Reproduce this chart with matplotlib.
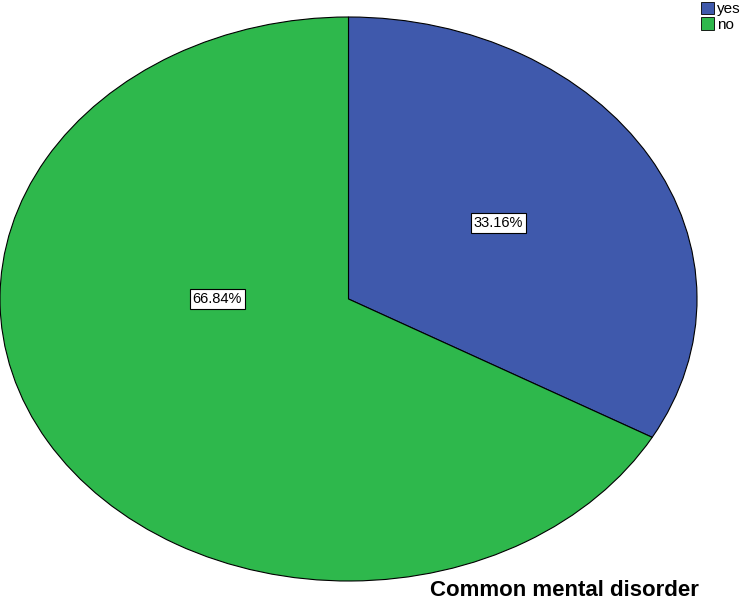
import matplotlib
matplotlib.use("Agg")
import matplotlib.pyplot as plt
from matplotlib.patches import Patch

categories = ["yes", "no"]
values = [33.16, 66.84]
colors = ["#3f59ac", "#2eb84c"]
title = "Common mental disorder"

plt.rcParams['font.family'] = ['Liberation Sans', 'DejaVu Sans']
fig = plt.figure(figsize=(7.56, 6.03), dpi=100)
W, H = 756, 603
ax = fig.add_axes([0 / W, (H - 581) / H, 697 / W, 564 / H])
wedges, _ = ax.pie(values, colors=colors, startangle=90, counterclock=False,
                   wedgeprops=dict(edgecolor="black", linewidth=0.8))
ax.set_aspect('auto')
ax.set_xlim(-1.0, 1.0)
ax.set_ylim(-1.0, 1.0)

label_pos = [(0.43, 0.27), (-0.377, 0.0)]
for (x, y), v in zip(label_pos, values):
    ax.text(x, y, f"{v:.2f}%", ha="center", va="center", fontsize=10.5,
            bbox=dict(boxstyle="square,pad=0.2", fc="white", ec="black", lw=0.8))

handles = [Patch(facecolor=c, edgecolor="black", linewidth=0.6, label=l)
           for c, l in zip(colors, categories)]
fig.legend(handles=handles, loc="upper left", bbox_to_anchor=(699 / W, 1.0),
           frameon=False, fontsize=11, handlelength=0.9, handleheight=0.9,
           handletextpad=0.15, labelspacing=0.05, borderpad=0.1, borderaxespad=0)

fig.text(430 / W, 1 - 590 / H, title, fontsize=16, fontweight="bold",
         ha="left", va="center")

fig.savefig("out.png", dpi=100)
